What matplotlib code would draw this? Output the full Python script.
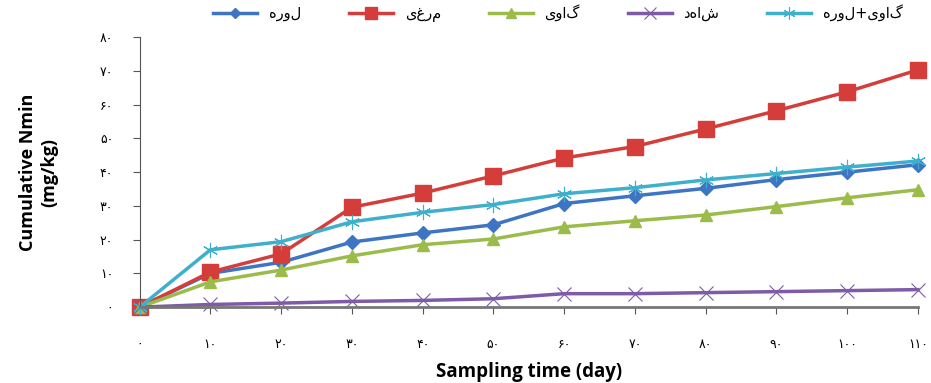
import matplotlib
matplotlib.use("Agg")
from matplotlib import pyplot as plt

# ==========================================================
# Dati
# ==========================================================
days = [0, 10, 20, 30, 40, 50, 60, 70, 80, 90, 100, 110]

lore = [0, 10.0, 13.3, 19.3, 22.0, 24.4, 30.7, 33.0, 35.2, 37.8, 40.0, 42.2]
morghi = [0, 10.4, 15.8, 29.6, 33.8, 38.9, 44.2, 47.6, 52.8, 58.2, 63.8, 70.3]
gavi = [0, 7.5, 11.0, 15.2, 18.5, 20.2, 23.8, 25.6, 27.3, 29.8, 32.4, 34.8]
shahed = [0, 0.8, 1.2, 1.7, 2.0, 2.5, 4.0, 4.0, 4.3, 4.6, 4.9, 5.2]
gavi_lore = [0, 17.0, 19.4, 25.3, 28.1, 30.4, 33.6, 35.4, 37.7, 39.6, 41.5, 43.3]

labels = ["لوره", "مرغی", "گاوی", "شاهد", "گاوی+لوره"]

x_ticks = [0, 10, 20, 30, 40, 50, 60, 70, 80, 90, 100, 110]
y_ticks = [0, 10, 20, 30, 40, 50, 60, 70, 80]

fa_digits = str.maketrans("0123456789", "۰۱۲۳۴۵۶۷۸۹")


def fa(n):
    return str(n).translate(fa_digits)


def rtl(s):
    # matplotlib non fa il layout RTL: inverto i caratteri
    return s[::-1]


# ==========================================================
# Plot
# ==========================================================
fig = plt.figure(figsize=(9.31, 3.83), dpi=100)
ax = fig.add_axes([0.150, 0.198, 0.836, 0.705])

series = [
    (lore, "#3d74c4", "D", 7, 1),
    (morghi, "#d43d3a", "s", 11, 1),
    (gavi, "#9bbb4a", "^", 9, 1),
    (shahed, "#7d5ba6", "x", 10, 0.8),
    (gavi_lore, "#3fb0cc", (6, 2, 0), 11, 0.8),
]

for (vals, color, marker, ms, mew), lab in zip(series, labels):
    ax.plot(
        days, vals,
        color=color, linewidth=2.5,
        marker=marker, markersize=ms, markeredgewidth=mew,
        markeredgecolor=color, markerfacecolor=color,
        label=rtl(lab),
    )

ax.set_xlim(0, 110)
ax.set_ylim(0, 80)
ax.set_xticks(x_ticks)
ax.set_xticklabels([fa(t) for t in x_ticks], family=["DejaVu Sans"], fontsize=9)
ax.set_yticks(y_ticks)
ax.set_yticklabels([fa(t) for t in y_ticks], family=["DejaVu Sans"], fontsize=9)
ax.tick_params(axis="x", length=5, color="#555555", pad=17)
ax.tick_params(axis="y", length=5, color="#555555", pad=14)

for side in ["top", "right"]:
    ax.spines[side].set_visible(False)
ax.spines["left"].set_color("#555555")
ax.spines["bottom"].set_color("#777777")
ax.spines["bottom"].set_linewidth(2)
for m in ax.get_lines():
    m.set_clip_on(False)

ax.set_xlabel("Sampling time (day)", family="Open Sans", fontsize=13.5,
              fontweight="bold", labelpad=8)
ax.set_ylabel("Cumulative Nmin\n(mg/kg)", family="Open Sans", fontsize=13,
              fontweight="bold", labelpad=30)

ax.legend(
    loc="center left", bbox_to_anchor=(0.078, 1.09), ncol=5, frameon=False,
    handlelength=3.0, columnspacing=3.3, handletextpad=0.8,
    markerscale=0.8,
    prop={"family": "DejaVu Sans", "size": 10.5},
)

fig.savefig("out.png", dpi=100)
plt.close(fig)
